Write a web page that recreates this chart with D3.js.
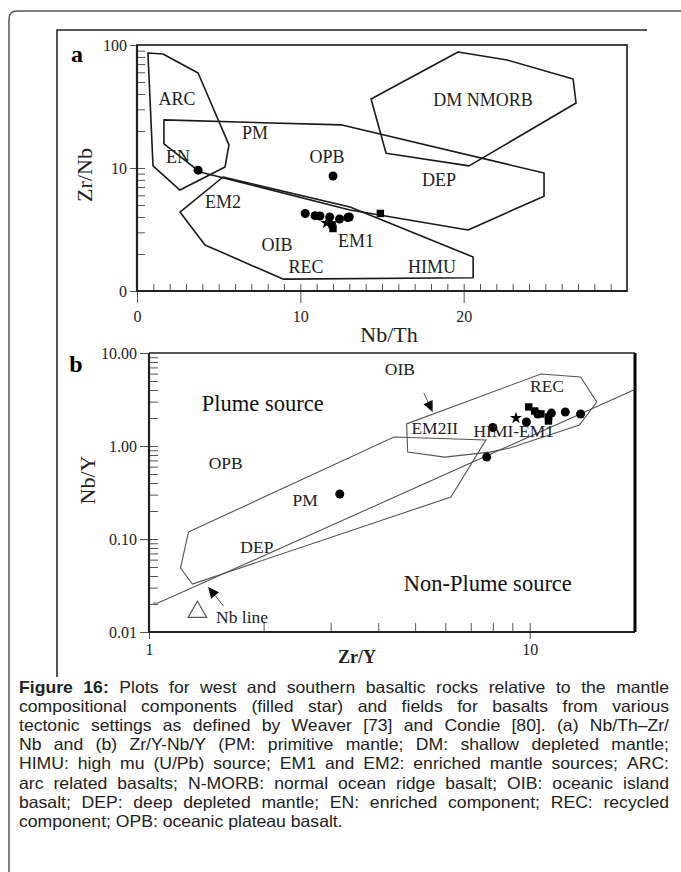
<!DOCTYPE html>
<html>
<head>
<meta charset="utf-8">
<script src="https://cdn.jsdelivr.net/npm/d3@7"></script>
<style>
  body { margin: 0; background: #fff; }
  svg { display: block; }
</style>
</head>
<body>
<svg id="fig" width="681" height="872"></svg>
<script>
// ---------- panel a : Nb/Th vs Zr/Nb ----------
const aXTicks = [0, 10, 20];
const aYTicks = [1, 10, 100];
const aYTickLabels = ["0", "10", "100"];
const aArc = [[0.67, 86.1], [1.59, 84.5], [3.74, 59.2], [5.63, 15.4], [5.39, 10.2], [2.63, 6.62], [0.98, 10.4]];
const aPmDep = [[1.65, 24.6], [12.55, 22.4], [24.92, 9.1], [24.92, 5.9], [20.27, 3.13], [13.04, 4.56], [3.86, 9.27], [1.65, 15.7]];
const aOib = [[5.27, 8.45], [13.04, 4.82], [20.58, 1.89], [20.58, 1.28], [8.94, 1.25], [4.16, 2.37], [2.63, 4.38]];
const aDm = [[19.66, 87.7], [22.66, 75.5], [26.7, 52.9], [26.88, 33.8], [20.33, 10.4], [15.25, 13.2], [14.33, 36.4]];
const aCircles = [[3.74, 9.6], [12.0, 8.6], [10.3, 4.27], [10.9, 4.1], [11.2, 4.07], [11.8, 4.0], [12.4, 3.85], [12.9, 3.95], [13.0, 4.0]];
const aSquares = [[14.9, 4.27], [12.0, 3.22], [11.95, 3.45]];
const aStars = [[11.6, 3.57]];
const aLabels = [
  ["ARC", 2.45, 36.4], ["PM", 7.23, 19.3], ["EN", 2.51, 12.3], ["OPB", 11.63, 12.3],
  ["DM NMORB", 21.19, 35.7], ["DEP", 18.49, 7.98], ["EM2", 5.27, 5.3], ["EM1", 13.41, 2.55],
  ["OIB", 8.57, 2.37], ["REC", 10.35, 1.57], ["HIMU", 18.06, 1.57]
];

// ---------- panel b : Zr/Y vs Nb/Y ----------
const bXTicks = [1, 10];
const bYTicks = [0.01, 0.1, 1, 10];
const bYTickLabels = ["0.01", "0.10", "1.00", "10.00"];
const bPmDep = [[1.27, 0.119], [4.40, 1.25], [7.67, 1.16], [6.21, 0.283], [1.30, 0.0328], [1.21, 0.0488]];
const bOib = [[4.75, 1.73], [10.7, 5.94], [13.6, 5.52], [15.0, 2.97], [13.5, 1.68], [8.87, 0.95], [7.85, 0.86], [5.98, 0.76], [4.78, 0.86]];
const bNbLine = [[1.024, 0.0205], [1.056, 0.0205], [18.75, 4.0]];
const bCircles = [[3.17, 0.305], [7.71, 0.76], [8.0, 1.58], [9.8, 1.81], [10.5, 2.21], [11.4, 2.26], [12.4, 2.32], [13.6, 2.21]];
const bSquares = [[9.94, 2.63], [10.3, 2.38], [10.7, 2.21], [11.2, 2.05], [11.2, 1.86]];
const bStars = [[9.2, 2.0]];
const bOpenTri = [[1.34, 0.0164]];
const bLabels = [
  ["OIB", 4.56, 6.73], ["REC", 11.1, 4.42], ["EM2II", 5.63, 1.56], ["HIMI-EM1", 9.08, 1.45],
  ["OPB", 1.59, 0.656], ["PM", 2.57, 0.262], ["DEP", 1.92, 0.082]
];
const bBigLabels = [["Plume source", 1.99, 2.9], ["Non-Plume source", 7.76, 0.0336]];
const bArrows = [[[5.27, 3.72], [5.56, 2.32]], [[1.57, 0.019], [1.43, 0.0305]]]; // tail, tip

const captionLines = [
  "Figure 16: Plots for west and southern basaltic rocks relative to the mantle",
  "compositional components (filled star) and fields for basalts from various",
  "tectonic settings as defined by Weaver [73] and Condie [80]. (a) Nb/Th–Zr/",
  "Nb and (b) Zr/Y-Nb/Y (PM: primitive mantle; DM: shallow depleted mantle;",
  "HIMU: high mu (U/Pb) source; EM1 and EM2: enriched mantle sources; ARC:",
  "arc related basalts; N-MORB: normal ocean ridge basalt; OIB: oceanic island",
  "basalt; DEP: deep depleted mantle; EN: enriched component; REC: recycled",
  "component; OPB: oceanic plateau basalt."
];

const serif = "'Liberation Serif','Times New Roman',serif";
const sans = "'Liberation Sans',Arial,sans-serif";
const svg = d3.select("#fig");

// outer boxes
svg.append("path").attr("d", "M9,872 V19 Q9,11 17,11 H681")
  .attr("fill", "none").attr("stroke", "#555").attr("stroke-width", 1.5);
svg.append("path").attr("d", "M57,677 V30 H647")
  .attr("fill", "none").attr("stroke", "#222").attr("stroke-width", 1.5);

function styleAxis(g, size) {
  g.attr("font-family", serif).attr("font-size", size).attr("fill", "#222");
  g.selectAll(".tick text").attr("fill", "#222");
  g.selectAll(".tick line").attr("stroke", "#555");
  g.select(".domain").remove();
}

function drawMarks(g, x, y, circles, squares, stars) {
  g.selectAll("circle.pt").data(circles).join("circle").attr("class", "pt")
    .attr("cx", d => x(d[0])).attr("cy", d => y(d[1])).attr("r", 4.5).attr("fill", "#000");
  g.selectAll("path.sq").data(squares).join("path").attr("class", "sq")
    .attr("d", d3.symbol(d3.symbolSquare, 55))
    .attr("transform", d => `translate(${x(d[0])},${y(d[1])})`).attr("fill", "#000");
  g.selectAll("path.st").data(stars).join("path").attr("class", "st")
    .attr("d", d3.symbol(d3.symbolStar, 45))
    .attr("transform", d => `translate(${x(d[0])},${y(d[1])})`).attr("fill", "#000");
}

// ================= panel a =================
const xa = d3.scaleLinear().domain([0, 30]).range([137, 627]);
const ya = d3.scaleLog().domain([1, 100]).range([291, 45]);
const ga = svg.append("g");

ga.append("g").attr("transform", `translate(0,${ya(1)})`)
  .call(d3.axisBottom(xa).tickValues(d3.range(1, 30)).tickSize(-7).tickFormat(""))
  .call(g => styleAxis(g, 16));
ga.append("g").attr("transform", `translate(0,${ya(1)})`)
  .call(d3.axisBottom(xa).tickValues(aXTicks).tickSize(12).tickPadding(8).tickSizeOuter(0))
  .call(g => styleAxis(g, 16));
const aMinorY = [2, 3, 4, 5, 6, 7, 8, 9, 10, 20, 30, 40, 50, 60, 70, 80, 90];
ga.append("g").attr("transform", `translate(${xa(0)},0)`)
  .call(d3.axisLeft(ya).tickValues(aMinorY).tickSize(-8).tickFormat(""))
  .call(g => styleAxis(g, 16));
ga.append("g").attr("transform", `translate(${xa(0)},0)`)
  .call(d3.axisLeft(ya).tickValues(aYTicks).tickSize(7).tickPadding(3).tickFormat((d, i) => aYTickLabels[i]))
  .call(g => styleAxis(g, 16));

ga.append("rect").attr("x", xa(0)).attr("y", ya(100))
  .attr("width", xa(30) - xa(0)).attr("height", ya(1) - ya(100))
  .attr("fill", "none").attr("stroke", "#444").attr("stroke-width", 2);
ga.append("path").attr("d", `M${xa(0)},${ya(100)} V${ya(1)} H${xa(30)}`)
  .attr("fill", "none").attr("stroke", "#222").attr("stroke-width", 2.2);

const lineA = d3.line().x(d => xa(d[0])).y(d => ya(d[1])).curve(d3.curveLinearClosed);
ga.selectAll("path.field").data([aArc, aPmDep, aOib, aDm]).join("path").attr("class", "field")
  .attr("d", lineA).attr("fill", "none").attr("stroke", "#1a1a1a").attr("stroke-width", 1.6)
  .attr("stroke-linejoin", "round");

drawMarks(ga, xa, ya, aCircles, aSquares, aStars);

ga.selectAll("text.lab").data(aLabels).join("text").attr("class", "lab")
  .attr("x", d => xa(d[1])).attr("y", d => ya(d[2])).attr("dy", "0.35em")
  .attr("text-anchor", "middle").attr("font-family", serif).attr("font-size", 18).attr("fill", "#222")
  .text(d => d[0]);

ga.append("text").attr("x", 77).attr("y", 62).attr("text-anchor", "middle")
  .attr("font-family", serif).attr("font-weight", "bold").attr("font-size", 24).text("a");
ga.append("text").attr("transform", "translate(84,175) rotate(-90)").attr("dy", "0.35em")
  .attr("text-anchor", "middle").attr("font-family", serif).attr("font-size", 22).attr("fill", "#222").text("Zr/Nb");
ga.append("text").attr("x", 389).attr("y", 334).attr("dy", "0.35em")
  .attr("text-anchor", "middle").attr("font-family", serif).attr("font-size", 22).attr("fill", "#222").text("Nb/Th");

// ================= panel b =================
const xb = d3.scaleLog().domain([1, 18.9]).range([149, 635]);
const yb = d3.scaleLog().domain([0.01, 10]).range([632, 353]);
const gb = svg.append("g");

gb.append("g").attr("transform", `translate(0,${yb(0.01)})`)
  .call(d3.axisBottom(xb).tickValues([2, 3, 4, 5, 6, 7, 8, 9, 10]).tickSize(-9).tickFormat(""))
  .call(g => styleAxis(g, 16));
gb.append("g").attr("transform", `translate(0,${yb(0.01)})`)
  .call(d3.axisBottom(xb).tickValues(bXTicks).tickSize(7).tickPadding(5).tickFormat(d3.format("d")).tickSizeOuter(0))
  .call(g => styleAxis(g, 16));
const bMinorY = [];
[0.01, 0.1, 1].forEach(p => d3.range(1, 10).forEach(k => bMinorY.push(p * k)));
gb.append("g").attr("transform", `translate(${xb(1)},0)`)
  .call(d3.axisLeft(yb).tickValues(bMinorY).tickSize(-9).tickFormat(""))
  .call(g => styleAxis(g, 16));
gb.append("g").attr("transform", `translate(${xb(1)},0)`)
  .call(d3.axisLeft(yb).tickValues(bYTicks).tickSize(9).tickPadding(3).tickFormat((d, i) => bYTickLabels[i]))
  .call(g => styleAxis(g, 16));

gb.append("path").attr("d", `M${xb(1)},${yb(10)} H${xb(18.9)}`)
  .attr("stroke", "#555").attr("stroke-width", 2).attr("fill", "none");
gb.append("path").attr("d", `M${xb(18.9)},${yb(10)} V${yb(0.01)}`)
  .attr("stroke", "#000").attr("stroke-width", 3).attr("fill", "none");
gb.append("path").attr("d", `M${xb(1)},${yb(10)} V${yb(0.01)} H${xb(18.9)}`)
  .attr("stroke", "#222").attr("stroke-width", 2.2).attr("fill", "none");

const lineB = d3.line().x(d => xb(d[0])).y(d => yb(d[1]));
gb.selectAll("path.field").data([bPmDep, bOib]).join("path").attr("class", "field")
  .attr("d", d => lineB.curve(d3.curveLinearClosed)(d))
  .attr("fill", "none").attr("stroke", "#555").attr("stroke-width", 1.1);
gb.append("path").attr("d", lineB.curve(d3.curveLinear)(bNbLine))
  .attr("fill", "none").attr("stroke", "#555").attr("stroke-width", 1.1);

drawMarks(gb, xb, yb, bCircles, bSquares, bStars);

gb.selectAll("path.tri").data(bOpenTri).join("path").attr("class", "tri")
  .attr("d", d3.symbol(d3.symbolTriangle, 150))
  .attr("transform", d => `translate(${xb(d[0])},${yb(d[1])})`)
  .attr("fill", "none").attr("stroke", "#555").attr("stroke-width", 1.2);

bArrows.forEach(([tail, tip]) => {
  const x0 = xb(tail[0]), y0 = yb(tail[1]), x1 = xb(tip[0]), y1 = yb(tip[1]);
  const len = Math.hypot(x1 - x0, y1 - y0), ux = (x1 - x0) / len, uy = (y1 - y0) / len;
  const hl = 11, hw = 5;
  const bx = x1 - ux * hl, by = y1 - uy * hl;
  gb.append("line").attr("x1", x0).attr("y1", y0).attr("x2", bx).attr("y2", by)
    .attr("stroke", "#555").attr("stroke-width", 1);
  gb.append("path")
    .attr("d", `M${x1},${y1} L${bx - uy * hw},${by + ux * hw} L${bx + uy * hw},${by - ux * hw} Z`)
    .attr("fill", "#000");
});

gb.selectAll("text.lab").data(bLabels).join("text").attr("class", "lab")
  .attr("x", d => xb(d[1])).attr("y", d => yb(d[2])).attr("dy", "0.35em")
  .attr("text-anchor", "middle").attr("font-family", serif).attr("font-size", 17.5).attr("fill", "#222")
  .text(d => d[0]);
gb.selectAll("text.big").data(bBigLabels).join("text").attr("class", "big")
  .attr("x", d => xb(d[1])).attr("y", d => yb(d[2])).attr("dy", "0.35em")
  .attr("text-anchor", "middle").attr("font-family", serif).attr("font-size", 22.5).attr("fill", "#111")
  .text(d => d[0]);
gb.append("text").attr("x", xb(1.5)).attr("y", yb(0.0145)).attr("dy", "0.35em")
  .attr("font-family", serif).attr("font-size", 17.5).attr("fill", "#222").text("Nb line");

gb.append("text").attr("x", 76).attr("y", 372).attr("text-anchor", "middle")
  .attr("font-family", serif).attr("font-weight", "bold").attr("font-size", 24).text("b");
gb.append("text").attr("transform", "translate(87,480) rotate(-90)").attr("dy", "0.35em")
  .attr("text-anchor", "middle").attr("font-family", serif).attr("font-size", 22).attr("fill", "#222").text("Nb/Y");
gb.append("text").attr("x", 357).attr("y", 657).attr("dy", "0.35em")
  .attr("text-anchor", "middle").attr("font-family", serif).attr("font-weight", "bold")
  .attr("font-size", 18).attr("fill", "#222").text("Zr/Y");

// ================= caption (justified, slightly wide glyphs) =================
const capLeft = 19, capRight = 669, capTop = 693, capStep = 19.1, capStretch = 1.08;
captionLines.forEach((line, i) => {
  const words = line.split(" ");
  const t = svg.append("text")
    .attr("transform", `translate(${capLeft},${capTop + i * capStep}) scale(${capStretch},1)`)
    .attr("font-family", sans).attr("font-size", 16.3).attr("fill", "#222");
  const spans = words.map((w, j) => t.append("tspan")
    .attr("font-weight", i === 0 && j < 2 ? "bold" : null).text(w));
  const widths = spans.map(s => s.node().getComputedTextLength());
  const total = d3.sum(widths);
  const last = i === captionLines.length - 1;
  const avail = (capRight - capLeft) / capStretch;
  const gap = last ? 4.5 : Math.max(2, (avail - total) / (words.length - 1));
  let x = 0;
  spans.forEach((s, j) => { s.attr("x", x); x += widths[j] + gap; });
});
</script>
</body>
</html>
